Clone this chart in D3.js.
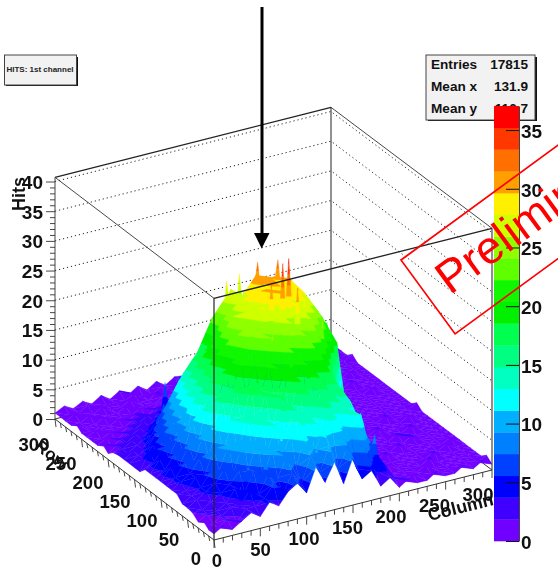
<!DOCTYPE html>
<html><head><meta charset="utf-8">
<script src="https://cdnjs.cloudflare.com/ajax/libs/d3/7.8.5/d3.min.js"></script>
<style>html,body{margin:0;padding:0;background:#fff;overflow:hidden}svg{display:block;filter:blur(0.35px)}text{font-family:"Liberation Sans",Arial,sans-serif}</style>
</head><body><svg id="c" width="558" height="570"></svg>
<script>
// Hits per cell: one row per Row value (0,10,...,300), one entry per Column value (0,10,...,300)
const hits = [
[1,2,1,2,3,2,4,3,5,6,4,8,5,8,4,8,4,5,2,3,1,2,1,1,2,1,1,2,1,2,1],
[1,1,2,1,3,3,4,6,4,7,5,9,6,10,6,9,5,8,4,4,2,1,1.8,1,1,1,1,1,1,1,1.8],
[1.8,1,2,3,3,5,4,7,6,9,7,12,9,12,11,11,9,13,6,5,2,1,1,1,1.8,1,1,1,1,1,1],
[1,2,2,3,5,4,7,6,10,8,12,9,14,10,16,9,14,9,9,5,1.8,1,1,1,1,2,1,1,1,1,1],
[1.8,2,3,4,5,7,7,11,9,13,11,15,12,16,12,16,11,14,7,4,1,1.8,1,1,1,1,2,1,1,1,1],
[2,3,4,5,7,6,11,9,14,11,17,13,19,13,19,14,17,12,6,2,1,1,1,1,1,1,1,1,1.8,1,1],
[2,3,4,6,6,10,8,14,12,17,15,20,17,21,17,21,15,14,3,1,1,1,2,1,1,1,1,1,1,1.8,1],
[3,3,5,5,9,8,13,12,18,16,21,19,23,20,24,19,21,14,6,1.8,1,1,1,1,2,1,1,1,1,1,1],
[3,4,5,7,7,12,11,17,16,21,20,24,22,26,21,26,20,20,13,2,1,1,1,1,1,1,2,1,1,1,1],
[3,4,6,6,10,10,16,15,22,20,25,23,27,24,28,23,26,19,20,9,1.8,1,1,1,1,2,1,1,1,1,1],
[3,5,5,8,8,14,13,19,18,25,22,28,24,30,24,29,22,25,18,19,2,1,1,1,1,1,1,2,1,1,1],
[3,4,6,6,11,11,17,16,23,21,27,24,30,25,29,24,28,21,23,16,10,1,1,1,2,1,1,1,1,1,1],
[3,5,5,8,9,14,13,20,19,26,23,29,25,31,25,30,23,26,18,20,14,2,1,1,1,1,1,1,1.8,1,1],
[3,4,6,6,10,11,16,16,22,22,27,24,31,25,30,24,26,21,23,16,16,11,2,1,1,1,2,1,1,1,1],
[2,5,4,8,7,13,12,19,19,24,24,27,25,29,25,27,21,24,16,18,13,12,2,1,1,1,1,1,1,1,1.8],
[2,3,5,5,9,9,15,14,19,21,27,24,26,26,27,22,24,17,19,13,13,9,8,1.8,1,1,1,1,1,1,1],
[2,3,4,6,6,11,9,17,15,23,18,27,22,24,21,23,17,20,14,14,10,10,6,1.8,1,1,1,1,1,1,1],
[2,3,3,5,7,7,13,11,17,15,20,16,19,25,22,22,19,13,16,10,11,7,7,3,1.8,1,1,1,1,1,1],
[2,2,3,4,5,8,8,13,11,16,14,21,14,19,14,18,12,15,10,11,7,8,4,4,1.8,1,1,1,1,1,1],
[1.8,2,3,3,4,6,6,10,9,13,11,16,12,15,12,14,11,12,8,9,6,6,3,3,1.8,1,1,1,1.8,1,1],
[1,2,2,3,3,4,5,7,8,9,10,11,10,11,11,10,9,9,7,6,5,4,3,2,1.8,1,1,1,1,1,1],
[1.8,1,2,2,3,3,4,5,6,7,7,8,8,8,8,8,7,7,6,5,4,3,3,2,1,1,1,2,1,1,1],
[1,1.8,1,2,2,3,3,4,4,5,6,6,6,6,6,6,5,5,4,4,3,3,2,1.8,1,1,1,1,1,1,1],
[1,1,1.8,1,2,2,3,3,3,4,4,4,5,4,5,4,4,3,3,3,2,2,1.8,1,1,1,1,1,1.8,1,1],
[1,1.8,1,1,1,2,2,2,3,3,3,3,3,4,3,3,3,3,2,2,2,1.8,1,1,1,1,1,1,1,1,1],
[1,1,1,1,1.8,1,2,1,2,2,2,3,2,2,3,2,2,2,2,1.8,1,1.8,1,1,1,1,2,1,1,1,1],
[1.8,1,1,1.8,1,1,1,1.8,1,1.8,2,1,1.8,2,1.8,1,2,1,1.8,1,1,1,1,1,1.8,1,1,1,1,1,1.8],
[1,1,1.8,1,1,1,1.8,1,1,1,1.8,1,1,1.8,1,1,1.8,1,1,1,1.8,1,1,1,1,1,1,2,1,1,1],
[1,1.8,1,1,1.8,1,1,1.8,1,1,2,1,1,1.8,1,1.8,1,1,1,1.8,1,1,1.8,1,1,1,1.8,1,1,1.8,1],
[1,1,1,1.8,1,1,1,1,1.8,1,1,1.8,1,1,1,1,1.8,1,1,1,1,1.8,1,1,1,1,1,1,1,1,1],
[1,1.8,1,1.8,1,2,1,2,1,2,1,2,1,2,1.8,2.4,1,1.8,1,1,1.8,1,1.8,1,1.8,1,1.8,1,1.8,1,1.8]
];
// Narrow single-bin peaks standing on the surface: [column, row, hits]
const peaks = [
[103,156,29],[121,163,29],[123,132,33],[127,125,30],[142,127,33],[126,90,35.5],[133,91,36],[134,76,32],[146,84,29],[116,94,32],[191,120,21],[164,106,25],
[112,28,15],[132,35,17],[122,22,13],[142,37,16],[152,27,12],[163,43,17],[172,24,13],[180,34,11],[186,22,9],[195,35,6],
[90,30,12],[100,44,18],[70,25,9],[78,50,15],[55,32,8],[40,20,6],[146,15,11],[118,12,10],[132,52,20],
[60,70,15],[72,85,19],[86,68,19],[95,95,25],[108,78,25],[118,60,22],[150,62,22],[162,78,25],[140,85,27],
[90,120,26],[75,110,20],[60,100,15],[50,80,11],[48,130,13],[64,140,17],[80,150,20],[70,175,14],[92,170,20],
[85,205,11],[78,228,8],[60,200,7],[100,200,14]
];
const palette = ["#7000ff","#4000ff","#0000ff","#0040ff","#0080ff","#00b0ff","#00ffff","#00ffc0","#00ff80","#00ff50",
 "#00f000","#10f800","#60ff00","#90ff00","#d0ff00","#fff000","#ffa000","#ff7000","#ff3800","#ff0000"];
const zMaxPalette = 37.05;
const zTicks = [0,5,10,15,20,25,30,35,40];
const barTicks = [0,5,10,15,20,25,30,35];
const xyTicks = [0,50,100,150,200,250,300];
const statNames = ["Entries","Mean x","Mean y"];
const statValues = ["17815","131.9","116.7"];
const titleText = "HITS: 1st channel";
const stampText = "Preliminary";

const svg = d3.select("#c");
const uScale = d3.scaleLinear().domain([0,300]).range([0,1]);
const zAxisScale = d3.scaleLinear().domain([0,40]).range([419,181.5]);
const zRise = d3.scaleLinear().domain([0,40]).range([0,237.5]);
const zTop = 40.7;
function project(x,y,z){
  const u=uScale(x), v=uScale(y);
  return [214+278*u-159*v-2*u*v, 540-70*u-121*v-zRise(z)];
}
const line = pts => "M"+pts.map(p=>p[0].toFixed(2)+","+p[1].toFixed(2)).join("L");

// back walls
const back = svg.append("g");
back.selectAll("path.grid").data(zTicks.slice(1)).join("path").attr("class","grid")
  .attr("d",z=>line([project(0,300,z),project(300,300,z),project(300,0,z)]))
  .attr("fill","none").attr("stroke","#222").attr("stroke-width",1).attr("stroke-dasharray","1.2,2.9");
back.append("path").attr("d",line([project(300,300,0),project(300,300,zTop)])).attr("stroke","#222").attr("stroke-width",1).attr("fill","none");
back.append("path").attr("d",line([project(0,300,zTop),project(300,300,zTop)])).attr("stroke","#222").attr("stroke-width",1.2).attr("fill","none");
back.append("path").attr("d",line([project(300,300,zTop),project(300,0,zTop)])).attr("stroke","#333").attr("stroke-width",0.9).attr("fill","none");
back.append("path").attr("d",line([project(0,300,zTop),project(0,0,zTop)])).attr("stroke","#333").attr("stroke-width",0.9).attr("fill","none");
back.append("path").attr("d",line([project(0,300,0),project(300,300,0),project(300,0,0)])).attr("stroke","#333").attr("stroke-width",1).attr("fill","none");

// surface as banded triangles, painted back to front
const bandH = zMaxPalette/palette.length;
function clip(poly,level,keepAbove){
  const out=[];
  for(let k=0;k<poly.length;k++){
    const a=poly[k],b=poly[(k+1)%poly.length];
    const ia=keepAbove?a[2]>=level:a[2]<=level, ib=keepAbove?b[2]>=level:b[2]<=level;
    if(ia) out.push(a);
    if(ia!==ib){const t=(level-a[2])/(b[2]-a[2]);out.push([a[0]+t*(b[0]-a[0]),a[1]+t*(b[1]-a[1]),level]);}
  }
  return out;
}
const pieces=[];
function addTri(tri){
  const zs=tri.map(p=>p[2]);
  const b0=Math.max(0,Math.floor(d3.min(zs)/bandH)), b1=Math.min(palette.length-1,Math.floor(d3.max(zs)/bandH));
  for(let b=b0;b<=b1;b++){
    let poly=tri;
    if(b>0) poly=clip(poly,b*bandH,true);
    if(b<palette.length-1&&poly.length) poly=clip(poly,(b+1)*bandH,false);
    if(poly.length>2) pieces.push({b,d:line(poly.map(p=>project(p[0],p[1],p[2])))+"Z"});
  }
}
const step=10;
function surfaceAt(x,y){
  const i=Math.max(0,Math.min(29,Math.floor(x/step))), j=Math.max(0,Math.min(29,Math.floor(y/step)));
  const s=x/step-i,t=y/step-j;
  return (1-s)*(1-t)*hits[j][i]+s*(1-t)*hits[j][i+1]+(1-s)*t*hits[j+1][i]+s*t*hits[j+1][i+1];
}
const peaksByCell=d3.group(peaks,p=>Math.floor(p[0]/step)+"_"+Math.floor(p[1]/step));
for(let j=hits.length-2;j>=0;j--){
  for(let i=hits[0].length-2;i>=0;i--){
    const P=(a,c)=>[a*step,c*step,hits[c][a]];
    addTri([P(i+1,j+1),P(i,j+1),P(i+1,j)]);
    addTri([P(i,j+1),P(i+1,j),P(i,j)]);
    (peaksByCell.get(i+"_"+j)||[]).forEach(([x,y,z])=>{
      const ax=x+3.4,ay=y-2,bx=x-3.4,by=y+2;
      addTri([[x,y,z],[ax,ay,surfaceAt(ax,ay)-0.4],[bx,by,surfaceAt(bx,by)-0.4]]);
    });
  }
}
svg.append("g").selectAll("path").data(pieces).join("path")
  .attr("d",d=>d.d).attr("fill",d=>palette[d.b]).attr("stroke",d=>palette[d.b]).attr("stroke-width",0.35);

// front box edges
const front = svg.append("g").attr("fill","none");
front.append("path").attr("d",line([project(0,0,0),project(0,0,zTop)])).attr("stroke","#222").attr("stroke-width",1.2);
front.append("path").attr("d",line([project(0,300,0),project(0,300,zTop)])).attr("stroke","#444").attr("stroke-width",1);
front.append("path").attr("d",line([project(300,0,0),project(300,0,zTop)])).attr("stroke","#444").attr("stroke-width",1.2);
front.append("path").attr("d",line([project(0,0,zTop),project(300,0,zTop)])).attr("stroke","#222").attr("stroke-width",1.3);
front.append("path").attr("d",line([project(0,300,0),project(0,0,0),project(300,0,0)])).attr("stroke","#333").attr("stroke-width",1);

// ground axes
const minor=d3.range(0,301,10);
const axes=svg.append("g").attr("stroke","#333").attr("stroke-width",0.9).attr("fill","none");
axes.selectAll("path.xt").data(minor).join("path").attr("class","xt").attr("d",v=>{const p=project(v,0,0);const n=v%50===0?8:5;return line([p,[p[0],p[1]+n]]);});
axes.selectAll("path.yt").data(minor).join("path").attr("class","yt").attr("d",v=>{const p=project(0,v,0);const n=v%50===0?8:5;return line([p,[p[0]+1,p[1]+n]]);});
function lbl(g,x,y,t){
  return g.append("text").attr("x",x).attr("y",y).attr("text-anchor","middle").attr("font-size","18.5px").attr("font-weight","bold").attr("fill","#111").text(t);
}
const tl=svg.append("g");
const xLabX=d3.scaleLinear().domain([0,300]).range([217,478]), xLabY=d3.scaleLinear().domain([0,300]).range([567,501]);
const yLabX=d3.scaleLinear().domain([0,300]).range([196,34]), yLabY=d3.scaleLinear().domain([0,300]).range([565,451]);
// row title sits behind the tick labels
tl.append("text").attr("transform","translate(48,459) rotate(38)").attr("text-anchor","middle").attr("font-size","17px").attr("font-weight","bold").attr("fill","#111").text("Row");
xyTicks.forEach(v=>lbl(tl,xLabX(v),xLabY(v),v));
xyTicks.forEach(v=>lbl(tl,yLabX(v),yLabY(v),v));
tl.append("text").attr("transform","translate(462,513) rotate(-14)").attr("text-anchor","middle").attr("font-size","18px").attr("font-weight","bold").attr("fill","#111").text("Column");
tl.append("text").attr("transform","translate(25,177) rotate(-90)").attr("text-anchor","end").attr("font-size","18px").attr("font-weight","bold").attr("fill","#111").text("Hits");

// z axis
const zAxis=svg.append("g").attr("transform","translate(55,0)")
  .call(d3.axisLeft(zAxisScale).tickValues(d3.range(0,41,1)).tickFormat(d=>d%5===0?d:"").tickSize(5).tickPadding(6));
zAxis.select(".domain").remove();
zAxis.selectAll(".tick line").attr("stroke","#333").attr("stroke-width",0.9).attr("x2",d=>d%5===0?-9:-5);
zAxis.selectAll(".tick text").attr("font-size","19px").attr("font-weight","bold").attr("font-family",'"Liberation Sans"').attr("fill","#111").attr("x",-12).attr("dy","0.36em");

// title box
const tb=svg.append("g");
tb.append("rect").attr("x",6).attr("y",57).attr("width",72).attr("height",29).attr("fill","#111");
tb.append("rect").attr("x",4.5).attr("y",55).attr("width",72).attr("height",30).attr("fill","#f2f2f2").attr("stroke","#444");
tb.append("text").attr("x",40).attr("y",72).attr("text-anchor","middle").attr("font-size","8px").attr("font-weight","bold").attr("fill","#222").text(titleText);

// stats box
const sb=svg.append("g");
sb.append("rect").attr("x",428).attr("y",57).attr("width",109).attr("height",64).attr("fill","#111");
sb.append("rect").attr("x",426).attr("y",55).attr("width",109).attr("height",65).attr("fill","#f2f2f2").attr("stroke","#444");
const statY=d3.scalePoint().domain(statNames).range([69,113]);
statNames.forEach((n,i)=>{
  sb.append("text").attr("x",431).attr("y",statY(n)).attr("font-size","13.6px").attr("font-weight","bold").attr("fill","#111").text(n);
  sb.append("text").attr("x",528).attr("y",statY(n)).attr("text-anchor","end").attr("font-size","13.6px").attr("font-weight","bold").attr("fill","#111").text(statValues[i]);
});

// colour bar
const barScale=d3.scaleLinear().domain([0,zMaxPalette]).range([541,106]);
const bar=svg.append("g");
bar.selectAll("rect").data(palette).join("rect").attr("x",494).attr("width",25)
  .attr("y",(c,i)=>barScale((i+1)*bandH)).attr("height",(c,i)=>barScale(i*bandH)-barScale((i+1)*bandH)+0.3).attr("fill",c=>c);
const barAxis=svg.append("g").attr("transform","translate(519,0)").call(d3.axisRight(barScale).tickValues(barTicks).tickSize(0));
barAxis.select(".domain").attr("stroke","#444").attr("stroke-width",1);
barAxis.selectAll(".tick line").attr("x1",-13).attr("x2",0).attr("stroke","#111").attr("stroke-width",1);
barAxis.selectAll(".tick text").attr("x",2).attr("dy","0.38em").attr("font-size","19px").attr("font-weight","bold").attr("font-family",'"Liberation Sans"').attr("fill","#111");

// stamp
const stamp=svg.append("g").attr("transform","translate(401,260) rotate(-36.2)");
stamp.append("rect").attr("width",320).attr("height",91.6).attr("fill","none").attr("stroke","#f00").attr("stroke-width",1.7);
svg.append("text").attr("transform","translate(450,295.5) rotate(-36.2)").attr("font-size","46px").attr("fill","#f00").text(stampText);

// arrow
const arrow=svg.append("g");
arrow.append("path").attr("d",line([[262,7],[262,236]])).attr("stroke","#000").attr("stroke-width",3);
arrow.append("path").attr("d",line([[254,233],[269.5,233],[261.7,248.5]])+"Z").attr("fill","#000");
</script></body></html>
